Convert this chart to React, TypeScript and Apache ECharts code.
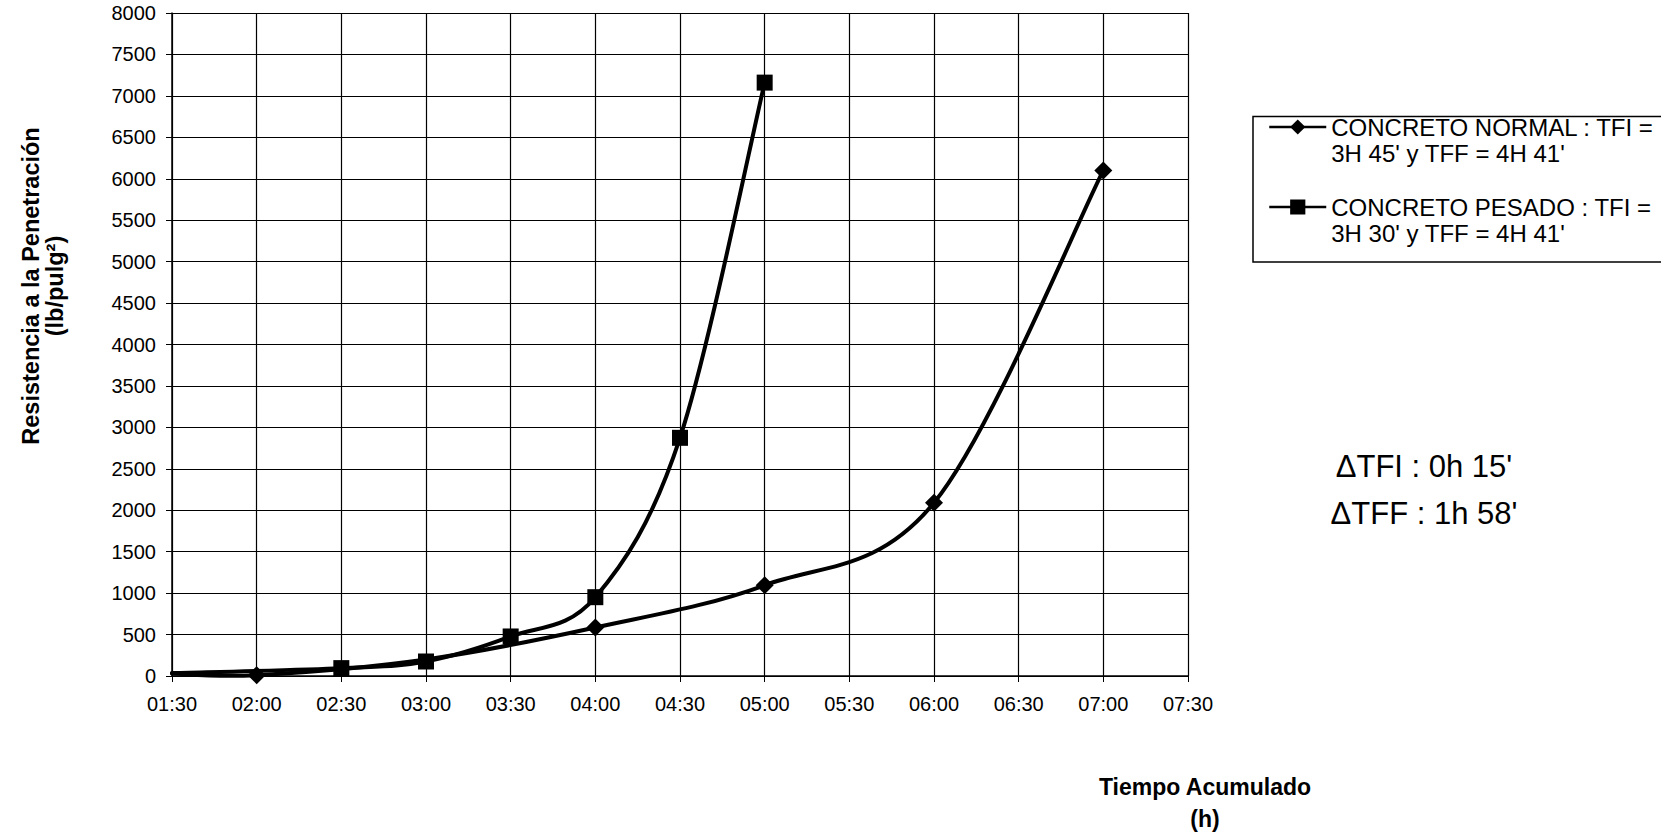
import React, { useEffect, useRef } from "react";
import * as echarts from "echarts";

// Time axis ticks (hh:mm)
const xTicks = ["01:30", "02:00", "02:30", "03:00", "03:30", "04:00", "04:30", "05:00", "05:30", "06:00", "06:30", "07:00", "07:30"];

// Normal concrete: penetration resistance readings
const normalName = "CONCRETO NORMAL : TFI =\n3H 45' y TFF = 4H 41'";
const normalTimes = ["01:30", "02:00", "03:00", "04:00", "05:00", "06:00", "07:00"];
const normalValues = [30, 10, 200, 585, 1095, 2090, 6100];
const normalMarked = [false, true, false, true, true, true, true];

// Heavy concrete: penetration resistance readings
const heavyName = "CONCRETO PESADO : TFI =\n3H 30' y TFF = 4H 41'";
const heavyTimes = ["01:30", "02:30", "03:00", "03:30", "04:00", "04:30", "05:00"];
const heavyValues = [35, 95, 175, 477, 951, 2874, 7160];
const heavyMarked = [false, true, true, true, true, true, true];

const yTitle = "Resistencia a la Penetración\n(lb/pulg²)";
const xTitle = "Tiempo Acumulado\n(h)";
const deltaNote = "ΔTFI : 0h 15'\nΔTFF : 1h 58'";

const FONT = "'Liberation Sans', Arial, Helvetica, sans-serif";

const toMin = (t: string) => {
  const [h, m] = t.split(":").map(Number);
  return h * 60 + m;
};

function markerData(times: string[], values: number[], marked: boolean[], symbol: string) {
  return times.map((t, i) => ({
    value: [toMin(t), values[i]],
    symbol: marked[i] ? symbol : "none",
  }));
}

// Smoothed curve through the readings: one cubic Bezier per segment,
// with Catmull-Rom style control points (neighbour difference / 6).
function smoothCurveSeries(times: string[], values: number[]) {
  const n = times.length;
  return {
    type: "custom",
    name: "curve",
    z: 2,
    silent: true,
    data: times.map((t, i) => [toMin(t), values[i]]),
    encode: { x: 0, y: 1 },
    renderItem: (params: any, api: any) => {
      const i = params.dataIndex;
      if (i >= n - 1) return null;
      const pt = (k: number) => api.coord([toMin(times[k]), values[k]]);
      const p0 = pt(Math.max(i - 1, 0));
      const p1 = pt(i);
      const p2 = pt(i + 1);
      const p3 = pt(Math.min(i + 2, n - 1));
      return {
        type: "bezierCurve",
        shape: {
          x1: p1[0],
          y1: p1[1],
          x2: p2[0],
          y2: p2[1],
          cpx1: p1[0] + (p2[0] - p0[0]) / 6,
          cpy1: p1[1] + (p2[1] - p0[1]) / 6,
          cpx2: p2[0] - (p3[0] - p1[0]) / 6,
          cpy2: p2[1] - (p3[1] - p1[1]) / 6,
        },
        style: { stroke: "#000", lineWidth: 4, fill: "none", lineCap: "round" },
      };
    },
  };
}

export default function App() {
  const ref = useRef<HTMLDivElement>(null);

  useEffect(() => {
    if (!ref.current) return;
    const chart = echarts.init(ref.current, null, { renderer: "svg" });
    const xMin = toMin(xTicks[0]);
    const xMax = toMin(xTicks[xTicks.length - 1]);

    chart.setOption({
      animation: false,
      backgroundColor: "#ffffff",
      textStyle: { fontFamily: FONT, color: "#000" },
      grid: { left: 172, right: 473, top: 13, bottom: 157, containLabel: false },
      xAxis: {
        type: "value",
        min: xMin,
        max: xMax,
        interval: 30,
        axisLine: { show: true, onZero: false, lineStyle: { color: "#000", width: 1.5 } },
        axisTick: { show: true, inside: false, length: 6, lineStyle: { color: "#000", width: 1 } },
        axisLabel: {
          color: "#000",
          fontSize: 20,
          fontFamily: FONT,
          margin: 18,
          formatter: (v: number) => xTicks.find((t) => toMin(t) === v) ?? "",
        },
        splitLine: { show: true, lineStyle: { color: "#000", width: 1.2 } },
      },
      yAxis: {
        type: "value",
        min: 0,
        max: 8000,
        interval: 500,
        axisLine: { show: true, lineStyle: { color: "#000", width: 1.5 } },
        axisTick: { show: true, inside: false, length: 6, lineStyle: { color: "#000", width: 1 } },
        axisLabel: {
          color: "#000",
          fontSize: 20,
          fontFamily: FONT,
          margin: 16,
          formatter: (v: number) => String(v),
        },
        splitLine: { show: true, lineStyle: { color: "#000", width: 1.2 } },
      },
      legend: {
        orient: "vertical",
        left: 1268,
        top: 88,
        padding: 0,
        itemWidth: 57,
        itemHeight: 19,
        itemGap: 2,
        selectedMode: false,
        lineStyle: { width: 2.5, color: "#000", opacity: 1 },
        // leading blank line keeps the symbol level with the first text line
        formatter: (name: string) => "\n" + name,
        textStyle: {
          color: "#000",
          fontSize: 24,
          fontFamily: FONT,
          lineHeight: 26,
        },
        data: [normalName, heavyName],
      },
      series: [
        smoothCurveSeries(normalTimes, normalValues),
        smoothCurveSeries(heavyTimes, heavyValues),
        {
          type: "line",
          name: normalName,
          data: markerData(normalTimes, normalValues, normalMarked, "diamond"),
          symbol: "diamond",
          symbolSize: 18,
          showAllSymbol: true,
          lineStyle: { color: "#000", width: 4, opacity: 0 },
          itemStyle: { color: "#000" },
          z: 3,
        },
        {
          type: "line",
          name: heavyName,
          data: markerData(heavyTimes, heavyValues, heavyMarked, "rect"),
          symbol: "rect",
          symbolSize: 16,
          showAllSymbol: true,
          lineStyle: { color: "#000", width: 4, opacity: 0 },
          itemStyle: { color: "#000" },
          z: 4,
        },
      ],
      graphic: [
        {
          type: "rect",
          shape: { x: 1253, y: 116.5, width: 450, height: 145.5 },
          style: { fill: "none", stroke: "#000", lineWidth: 1.5 },
          silent: true,
        },
        {
          type: "text",
          x: 43,
          y: 286,
          rotation: Math.PI / 2,
          style: {
            text: yTitle,
            fontSize: 23.5,
            fontWeight: "bold",
            fontFamily: FONT,
            lineHeight: 24,
            align: "center",
            verticalAlign: "middle",
            fill: "#000",
          },
        },
        {
          type: "text",
          x: 1205,
          y: 803,
          style: {
            text: xTitle,
            fontSize: 23,
            fontWeight: "bold",
            fontFamily: FONT,
            lineHeight: 32,
            align: "center",
            verticalAlign: "middle",
            fill: "#000",
          },
        },
        {
          type: "text",
          x: 1424,
          y: 490,
          style: {
            text: deltaNote,
            fontSize: 31,
            fontFamily: FONT,
            lineHeight: 47,
            align: "center",
            verticalAlign: "middle",
            fill: "#000",
          },
        },
      ],
    });

    return () => chart.dispose();
  }, []);

  return (
    <div
      ref={ref}
      style={{ position: "absolute", left: 0, top: 0, width: 1661, height: 833 }}
    />
  );
}
